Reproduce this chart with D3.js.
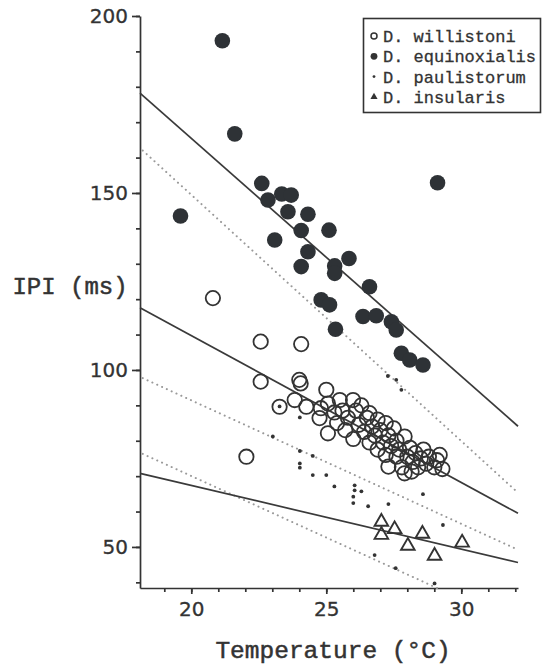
<!DOCTYPE html>
<html>
<head>
<meta charset="utf-8">
<script src="https://cdn.jsdelivr.net/npm/d3@7"></script>
<style>
  body { margin: 0; background: #fff; }
  .tick text { font-family: 'DejaVu Sans'; font-size: 20px; fill: #333; stroke: #333; stroke-width: 0.3px; }
  .lab { font-family: 'Liberation Mono'; fill: #333; stroke: #333; stroke-width: 0.5px; }
</style>
</head>
<body>
<div id="chart"></div>
<script>
// values: temperature (°C), IPI (ms)
var species = ['D. willistoni', 'D. equinoxialis', 'D. paulistorum', 'D. insularis'];

var willistoni = [
  [20.8,120.3],[22.57,108.0],[24.07,107.3],[22.57,96.7],[24.0,97.2],[24.05,96.2],
  [22.04,75.5],[23.27,89.6],[23.83,91.5],[24.26,89.6],
  [24.8,89.2],[24.75,86.4],[25.0,94.4],[25.06,82.1],[25.06,90.5],[25.3,88.0],
  [25.4,85.0],[25.5,91.5],[25.6,88.5],[25.7,83.0],[25.8,86.5],[25.99,91.5],
  [26.0,80.5],[26.1,88.5],[26.2,84.5],[26.3,90.0],[26.4,82.5],[26.5,86.5],
  [26.6,87.8],[26.6,79.5],[26.7,84.0],[26.8,81.5],[26.9,86.0],[26.9,77.5],
  [27.0,83.0],[27.1,79.5],[27.2,85.0],[27.2,76.0],[27.3,81.5],[27.3,72.7],
  [27.4,78.5],[27.5,83.5],[27.6,75.5],[27.6,80.0],[27.7,77.5],[27.8,72.5],
  [27.9,81.2],[27.9,70.8],[28.0,75.5],[28.1,78.0],[28.16,71.3],[28.2,74.0],
  [28.3,76.5],[28.4,72.5],[28.5,75.0],[28.6,77.5],[28.7,73.5],[28.8,75.5],
  [29.0,72.5],[29.1,74.5],[29.3,72.0],[29.2,76.0]
];

var equinoxialis = [
  [21.15,193.0],[21.61,166.7],[19.6,143.5],[22.61,152.7],[22.84,148.0],[23.35,149.7],
  [23.7,149.4],[23.58,144.7],[24.32,144.0],[24.07,139.4],[25.1,139.5],[23.09,136.7],
  [24.32,133.4],[24.07,129.2],[25.31,129.4],[25.84,131.5],[25.31,127.3],[26.6,123.5],
  [24.81,119.8],[25.12,118.4],[25.34,111.5],[26.36,115.1],[26.85,115.3],[27.41,113.6],
  [27.59,111.3],[27.78,104.7],[28.09,102.8],[28.58,101.4],[29.12,152.9]
];

var paulistorum = [
  [23.27,89.7],[24.02,86.6],[23.02,81.2],[24.02,77.1],[24.5,75.7],[24.02,73.6],
  [24.02,72.4],[24.5,70.3],[25.0,70.3],[25.3,67.1],[26.05,67.4],[26.05,66.0],
  [26.3,65.7],[26.0,64.2],[26.0,62.4],[26.55,61.5],[27.3,62.1],[28.58,64.9],
  [29.32,56.2],[26.79,47.7],[27.57,44.0],[29.01,39.7],[27.28,98.3],[27.59,97.2],
  [27.78,94.4]
];

var insularis = [
  [27.04,57.1],[27.04,53.4],[27.53,55.0],[28.02,50.3],[28.56,53.7],[29.01,47.5],[30.03,51.2]
];

// fitted lines, end points
var solidFits = [
  [[18.1,178.2],[32.1,84.1]],
  [[18.1,117.6],[32.1,59.5]],
  [[18.1,70.8],[32.1,45.6]]
];
var dottedFits = [
  [[18.2,162.0],[32.1,65.3]],
  [[18.2,97.7],[32.1,49.2]],
  [[18.2,76.3],[29.1,38.4]]
];

var xMajor = [20, 25, 30];
var xMinor = d3.range(19, 33);
var yMajor = [50, 100, 150, 200];
var yMinor = d3.range(40, 201, 10);

var svg = d3.select("#chart")
  .append("svg")
    .attr("width", 544)
    .attr("height", 670)

var x = d3.scaleLinear()
  .domain([18.1, 32.1])
  .range([140, 518]);

var y = d3.scaleLinear()
  .domain([38.4, 200])
  .range([588, 16]);

// Axes
var yMin = svg.append("g")
  .attr("transform", "translate(140,0)")
  .call(d3.axisLeft(y).tickValues(yMinor).tickSize(4).tickFormat(""))
yMin.select(".domain").remove()

var yAx = svg.append("g")
  .attr("transform", "translate(140,0)")
  .call(d3.axisLeft(y).tickValues(yMajor).tickSize(8).tickSizeOuter(0).tickPadding(4))

var xMin = svg.append("g")
  .attr("transform", "translate(0,588)")
  .call(d3.axisBottom(x).tickValues(xMinor).tickSize(4).tickFormat(""))
xMin.select(".domain").remove()

var xAx = svg.append("g")
  .attr("transform", "translate(0,588)")
  .call(d3.axisBottom(x).tickValues(xMajor).tickSize(6).tickSizeOuter(0).tickPadding(8))

svg.selectAll(".domain, .tick line")
  .attr("stroke", "#333")
  .attr("stroke-width", 1.7)

// Lines
var line = d3.line()
  .x(d => x(d[0]))
  .y(d => y(d[1]))

svg.selectAll("path.dotfit")
  .data(dottedFits)
  .enter()
  .append("path")
    .attr("class", "dotfit")
    .attr("d", line)
    .attr("fill", "none")
    .attr("stroke", "#9a9a9a")
    .attr("stroke-width", 2)
    .attr("stroke-linecap", "round")
    .attr("stroke-dasharray", "0.1,5.2")

svg.selectAll("path.fit")
  .data(solidFits)
  .enter()
  .append("path")
    .attr("class", "fit")
    .attr("d", line)
    .attr("fill", "none")
    .attr("stroke", "#3a3a3a")
    .attr("stroke-width", 1.7)

// Points
svg.selectAll("circle.equi")
  .data(equinoxialis)
  .enter()
  .append("circle")
    .attr("class", "equi")
    .attr("cx", d => x(d[0]))
    .attr("cy", d => y(d[1]))
    .attr("r", 7.8)
    .attr("fill", "#2e3236")

svg.selectAll("circle.will")
  .data(willistoni)
  .enter()
  .append("circle")
    .attr("class", "will")
    .attr("cx", d => x(d[0]))
    .attr("cy", d => y(d[1]))
    .attr("r", 7.2)
    .attr("fill", "none")
    .attr("stroke", "#333")
    .attr("stroke-width", 1.8)

svg.selectAll("circle.paul")
  .data(paulistorum)
  .enter()
  .append("circle")
    .attr("class", "paul")
    .attr("cx", d => x(d[0]))
    .attr("cy", d => y(d[1]))
    .attr("r", 1.9)
    .attr("fill", "#333")

var tri = d3.symbol().type(d3.symbolTriangle).size(80)

svg.selectAll("path.ins")
  .data(insularis)
  .enter()
  .append("path")
    .attr("class", "ins")
    .attr("d", tri)
    .attr("transform", d => "translate(" + x(d[0]) + "," + y(d[1]) + ")")
    .attr("fill", "none")
    .attr("stroke", "#333")
    .attr("stroke-width", 1.9)

// Axis titles
svg.append("text")
  .attr("class", "lab")
  .attr("x", 70)
  .attr("y", 286)
  .attr("dy", "0.35em")
  .attr("text-anchor", "middle")
  .style("font-size", "24px")
  .text("IPI (ms)")

svg.append("text")
  .attr("class", "lab")
  .attr("x", 333)
  .attr("y", 658)
  .attr("text-anchor", "middle")
  .style("font-size", "24.5px")
  .text("Temperature (\u00B0C)")

// Legend
var leg = svg.append("g")
leg.append("rect")
  .attr("x", 363.5).attr("y", 18.5)
  .attr("width", 177).attr("height", 94)
  .attr("fill", "#fff")
  .attr("stroke", "#333")
  .attr("stroke-width", 1.6)

var rows = leg.selectAll("g.row")
  .data(species)
  .enter()
  .append("g")
    .attr("class", "row")
    .attr("transform", (d, i) => "translate(374," + (36 + i * 20.3) + ")")

rows.append("text")
  .attr("class", "lab")
  .attr("x", 9)
  .attr("dy", "0.35em")
  .style("font-size", "17px")
  .style("stroke-width", "0.3px")
  .text(d => d)

rows.filter((d, i) => i == 0).append("circle")
  .attr("r", 3).attr("fill", "none").attr("stroke", "#333").attr("stroke-width", 1.5)
rows.filter((d, i) => i == 1).append("circle")
  .attr("r", 3.4).attr("fill", "#333")
rows.filter((d, i) => i == 2).append("circle")
  .attr("r", 1.4).attr("fill", "#333")
rows.filter((d, i) => i == 3).append("path")
  .attr("d", d3.symbol().type(d3.symbolTriangle).size(22))
  .attr("fill", "#333")
</script>
</body>
</html>
